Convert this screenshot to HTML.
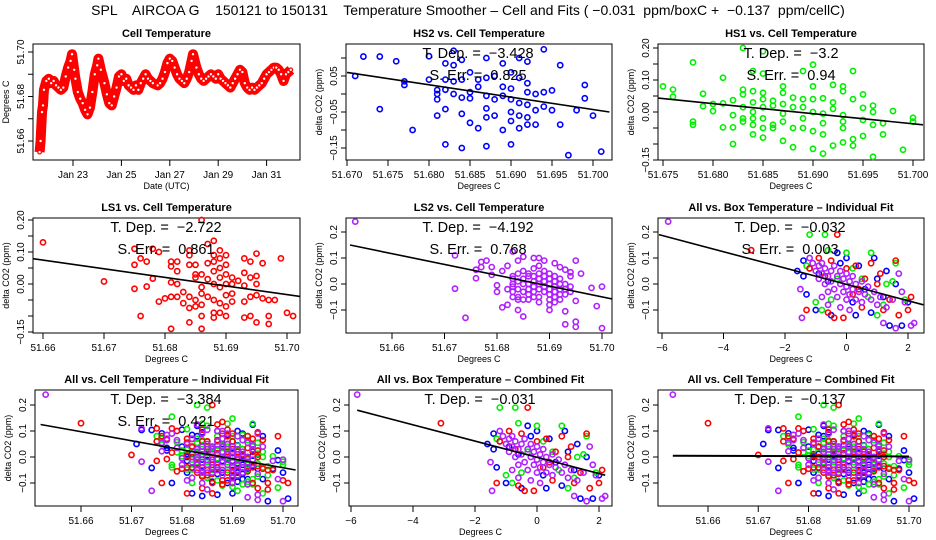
<!DOCTYPE html>
<html><head><meta charset="utf-8"><style>
html,body{margin:0;padding:0;background:#fff}
svg{display:block;font-family:"Liberation Sans",sans-serif}
</style></head><body>
<svg id="c" width="936" height="540" viewBox="0 0 936 540">
<text x="468" y="15" text-anchor="middle" font-size="14" style="white-space:pre">SPL    AIRCOA G    150121 to 150131    Temperature Smoother – Cell and Fits ( −0.031  ppm/boxC +  −0.137  ppm/cellC)</text>
</svg>
<script>
// ---- data ----
const tsDays=[21.62,21.66,21.72,21.76,21.8,21.9,22.0,22.1,22.2,22.3,22.4,22.5,22.6,22.7,22.8,22.9,22.96,23.05,23.1,23.2,23.3,23.4,23.5,23.6,23.7,23.8,23.9,24.0,24.05,24.15,24.3,24.4,24.5,24.6,24.7,24.8,24.9,25.0,25.1,25.2,25.3,25.4,25.5,25.6,25.7,25.8,25.9,26.0,26.1,26.2,26.3,26.5,26.6,26.7,26.8,26.9,27.0,27.1,27.2,27.3,27.4,27.5,27.6,27.7,27.8,27.9,27.96,28.1,28.2,28.3,28.4,28.5,28.6,28.7,28.8,28.9,29.0,29.1,29.2,29.3,29.4,29.5,29.6,29.7,29.8,29.9,30.0,30.1,30.2,30.3,30.4,30.5,30.6,30.7,30.8,30.9,31.0,31.1,31.2,31.3,31.4,31.5,31.6,31.7,31.8,31.9,32.0];
const tsTemp=[51.655,51.660,51.673,51.676,51.683,51.687,51.688,51.686,51.687,51.685,51.684,51.683,51.684,51.689,51.693,51.696,51.699,51.692,51.688,51.682,51.679,51.677,51.674,51.672,51.675,51.682,51.690,51.694,51.697,51.692,51.686,51.681,51.677,51.676,51.680,51.684,51.689,51.690,51.687,51.688,51.685,51.684,51.683,51.685,51.683,51.686,51.688,51.690,51.688,51.687,51.686,51.685,51.686,51.688,51.691,51.695,51.697,51.696,51.693,51.690,51.688,51.687,51.686,51.688,51.691,51.696,51.699,51.693,51.690,51.688,51.687,51.688,51.689,51.690,51.689,51.688,51.690,51.688,51.687,51.686,51.685,51.684,51.686,51.688,51.690,51.692,51.691,51.686,51.684,51.683,51.684,51.683,51.684,51.685,51.686,51.688,51.690,51.691,51.692,51.693,51.693,51.692,51.690,51.687,51.690,51.691,51.692];

const hs2T=[51.671,51.672,51.674,51.674,51.676,51.677,51.677,51.678,51.680,51.680,51.681,51.681,51.681,51.681,51.682,51.682,51.682,51.682,51.682,51.683,51.683,51.683,51.683,51.684,51.684,51.684,51.684,51.684,51.685,51.685,51.685,51.685,51.686,51.686,51.686,51.687,51.687,51.687,51.687,51.687,51.687,51.688,51.688,51.688,51.689,51.689,51.689,51.689,51.690,51.690,51.690,51.690,51.690,51.690,51.691,51.691,51.691,51.691,51.691,51.692,51.692,51.692,51.692,51.692,51.692,51.693,51.693,51.693,51.694,51.694,51.694,51.695,51.695,51.696,51.696,51.697,51.698,51.699,51.699,51.700,51.701];
const hs2C=[0.05,0.104,0.104,-0.042,0.091,0.035,0.025,-0.1,0.04,0.105,0.011,0.0,-0.015,-0.06,0.085,0.04,0.012,-0.042,-0.14,0.12,0.08,0.035,0.0,0.095,0.04,-0.01,-0.055,-0.15,0.06,0.005,-0.012,-0.08,0.04,0.02,-0.095,0.1,0.045,-0.005,-0.04,-0.065,-0.145,0.05,-0.015,-0.06,0.085,0.02,-0.005,-0.1,0.06,0.015,-0.015,-0.05,-0.075,-0.14,0.1,0.045,-0.025,-0.06,-0.095,0.09,0.03,0.005,-0.03,-0.065,-0.085,0.0,-0.045,-0.085,0.124,0.005,-0.035,0.01,-0.045,0.08,-0.085,-0.17,-0.045,0.025,-0.012,-0.06,-0.16];

const hs1T=[51.675,51.676,51.676,51.678,51.678,51.678,51.679,51.679,51.680,51.680,51.681,51.681,51.681,51.682,51.682,51.682,51.682,51.683,51.683,51.683,51.683,51.683,51.683,51.684,51.684,51.684,51.684,51.684,51.684,51.684,51.685,51.685,51.685,51.685,51.685,51.685,51.685,51.685,51.686,51.686,51.686,51.686,51.687,51.687,51.687,51.687,51.687,51.687,51.688,51.688,51.688,51.688,51.689,51.689,51.689,51.689,51.689,51.690,51.690,51.690,51.690,51.690,51.690,51.691,51.691,51.691,51.691,51.691,51.692,51.692,51.692,51.692,51.693,51.693,51.693,51.693,51.693,51.693,51.694,51.694,51.694,51.694,51.695,51.695,51.695,51.695,51.696,51.696,51.696,51.696,51.697,51.697,51.698,51.699,51.700,51.700];
const hs1C=[0.08,0.07,0.048,0.155,-0.03,-0.04,0.057,0.018,0.025,0.003,0.107,0.027,-0.048,0.037,-0.01,-0.048,-0.1,0.2,0.07,0.055,0.015,-0.02,-0.03,0.128,0.065,0.03,0.0,-0.02,-0.04,-0.07,0.19,0.12,0.06,0.04,0.015,-0.02,-0.05,-0.08,0.035,0.02,-0.04,-0.05,0.08,0.06,0.025,-0.005,-0.03,-0.09,0.045,0.015,-0.05,-0.11,0.04,0.015,-0.02,-0.05,0.128,0.148,0.08,0.04,0.0,-0.06,-0.115,0.043,-0.005,-0.035,-0.07,-0.13,0.085,0.03,0.01,-0.105,0.08,0.065,-0.01,-0.03,-0.05,-0.095,0.128,0.04,-0.085,-0.105,0.055,0.013,-0.025,-0.075,0.02,0.0,-0.04,-0.14,-0.035,-0.07,0.003,-0.118,-0.018,-0.03];

const ls1T=[51.660,51.670,51.675,51.675,51.675,51.676,51.676,51.677,51.677,51.678,51.678,51.679,51.679,51.680,51.681,51.681,51.681,51.681,51.681,51.682,51.682,51.682,51.682,51.683,51.683,51.684,51.684,51.684,51.684,51.684,51.684,51.685,51.685,51.685,51.685,51.685,51.686,51.686,51.686,51.686,51.686,51.686,51.686,51.687,51.687,51.687,51.687,51.688,51.688,51.688,51.688,51.688,51.688,51.688,51.688,51.689,51.689,51.689,51.689,51.689,51.689,51.689,51.690,51.690,51.690,51.690,51.690,51.690,51.690,51.691,51.691,51.691,51.691,51.692,51.693,51.693,51.693,51.693,51.693,51.694,51.694,51.694,51.694,51.695,51.695,51.695,51.695,51.695,51.696,51.696,51.697,51.697,51.697,51.698,51.699,51.700,51.701];
const ls1C=[0.13,0.008,0.11,0.06,-0.015,0.08,-0.1,0.07,-0.008,0.11,0.017,0.1,-0.055,-0.045,0.07,0.055,0.005,-0.04,-0.14,0.07,0.04,0.0,-0.04,-0.025,-0.06,0.105,0.09,0.06,-0.04,-0.075,-0.12,0.06,0.03,0.02,-0.05,-0.07,0.2,0.03,-0.01,-0.03,-0.065,-0.1,-0.14,0.125,0.065,0.015,-0.04,0.135,0.09,0.07,0.04,0.0,-0.05,-0.09,-0.105,0.105,0.08,0.05,0.02,-0.01,-0.06,-0.09,0.09,0.06,0.03,0.0,-0.035,-0.07,-0.1,0.02,0.0,-0.03,-0.055,0.01,0.08,0.035,-0.005,-0.055,-0.105,0.07,0.02,-0.04,-0.1,0.095,0.025,0.0,-0.035,-0.12,0.065,-0.045,-0.05,-0.1,-0.125,-0.05,0.08,-0.09,-0.1];

const ls2T=[51.653,51.672,51.672,51.674,51.676,51.676,51.677,51.677,51.678,51.679,51.679,51.680,51.680,51.681,51.681,51.682,51.682,51.682,51.683,51.683,51.683,51.683,51.684,51.684,51.685,51.685,51.687,51.688,51.689,51.690,51.691,51.692,51.693,51.693,51.693,51.694,51.695,51.695,51.695,51.695,51.696,51.698,51.699,51.700,51.700,
51.683,51.683,51.683,51.684,51.684,51.684,51.684,51.684,51.685,51.685,51.685,51.685,51.685,51.686,51.686,51.686,51.686,51.686,51.686,51.687,51.687,51.687,51.687,51.687,51.687,51.688,51.688,51.688,51.688,51.688,51.688,51.688,51.689,51.689,51.689,51.689,51.689,51.690,51.690,51.690,51.690,51.690,51.690,51.690,51.691,51.691,51.691,51.691,51.691,51.691,51.692,51.692,51.692,51.692,51.692,51.693,51.693,51.693,51.694,51.694,51.694];
const ls2C=[0.24,0.11,-0.018,-0.13,0.055,0.022,0.085,0.065,0.09,0.065,0.035,-0.005,-0.03,0.05,-0.09,0.07,-0.02,-0.08,0.125,0.03,0.0,-0.03,0.09,-0.1,0.105,-0.125,0.1,0.1,0.09,-0.1,0.08,0.065,0.055,-0.105,-0.155,0.045,0.09,-0.065,-0.145,-0.165,0.04,-0.015,-0.085,-0.01,-0.17,
0.02,-0.01,-0.05,0.04,0.01,-0.02,-0.05,-0.06,0.05,0.02,0.0,-0.03,-0.06,0.04,0.03,0.0,-0.02,-0.04,-0.06,0.06,0.03,0.01,-0.01,-0.03,-0.05,0.07,0.04,0.02,0.0,-0.02,-0.05,-0.07,0.05,0.03,0.01,-0.01,-0.03,0.04,0.02,0.0,-0.02,-0.04,-0.06,-0.08,0.03,0.01,-0.01,-0.03,-0.05,-0.07,0.02,0.0,-0.02,-0.04,-0.06,0.0,-0.02,-0.04,0.03,-0.01,-0.03];

const boxBlueX=[-1.6,-1.4,-1.4,-1.3,-1.0,-0.9,-0.6,-0.5,-0.3,-0.2,0.0,0.2,0.4,0.6,0.9,1.0,1.2,1.3,1.4,1.8,2.0,-1.2,0.3,0.8,1.6];
const boxBlueC=[0.05,0.09,0.03,-0.04,-0.1,0.04,0.01,-0.12,0.12,0.08,0.1,-0.07,0.07,-0.02,0.1,0.02,-0.05,0.05,-0.16,-0.16,-0.07,0.06,-0.12,-0.11,0.0];
const boxGreenX=[-1.2,-0.7,-0.6,-1.0,-0.8,-0.3,0.2,0.5,0.8,1.0,1.2,1.5,1.6,1.9,-0.5,0.0,1.3,-1.3,0.7];
const boxGreenC=[0.19,0.19,0.13,-0.07,-0.1,0.02,0.06,0.02,0.12,-0.12,-0.08,0.01,0.08,-0.06,-0.06,0.12,0.0,0.07,-0.05];
const boxRedX=[-3.1,-0.3,-1.3,-1.2,-0.9,-0.6,-0.5,-0.4,-0.1,0.0,0.2,0.3,0.5,0.6,0.8,1.0,1.2,1.4,1.6,1.7,2.0,2.1,-0.7,0.4,1.1];
const boxRedC=[0.13,0.19,-0.1,0.06,0.1,-0.11,0.09,-0.13,-0.13,0.06,-0.04,0.07,-0.09,0.02,0.08,0.0,-0.1,-0.06,0.09,-0.12,-0.1,-0.05,0.03,-0.02,0.04];
const boxMagX=[-5.8,-1.45,-1.5,1.2,1.6,2.1,2.2,1.7,-1.2,-0.8,-1.1,-1.0,-0.9,-0.9,-0.8,-0.7,-0.7,-0.6,-0.6,-0.5,-0.5,-0.4,-0.4,-0.3,-0.3,-0.2,-0.2,-0.1,-0.1,0,0,0,0.1,0.1,0.2,0.2,0.3,0.3,0.4,0.5,0.5,0.6,0.7,0.8,0.9,1.0,1.1,1.3,1.5,1.8,1.9,-0.8,-0.6,-0.2,0.1];
const boxMagC=[0.24,-0.13,-0.02,-0.15,-0.17,-0.16,-0.15,0.04,0.1,0.08,0.08,0.05,0.07,0.02,0.04,0.06,0.0,0.03,-0.03,0.05,0.01,-0.02,0.07,0.03,-0.05,0.0,0.05,-0.03,0.02,0.04,-0.01,-0.06,0.01,-0.04,-0.02,0.03,-0.06,0.0,-0.03,0.01,-0.07,-0.04,-0.01,-0.06,-0.03,-0.08,-0.05,-0.09,-0.06,-0.03,-0.07,-0.05,-0.08,-0.09,-0.1];

// fit line endpoints [x1,y1,x2,y2]
const fitHS2=[51.670,0.06,51.702,-0.05];
const fitHS1=[51.674,0.045,51.701,-0.04];
const fitLS1=[51.658,0.08,51.7025,-0.04];
const fitLS2=[51.652,0.15,51.7025,-0.06];
const fitBoxInd=[-6.1,0.19,2.5,-0.08];
const fitCellInd=[51.652,0.125,51.7025,-0.05];
const fitBoxComb=[-5.8,0.18,2.2,-0.07];
const fitCellComb=[51.653,0.005,51.70,0.002];

const BLUE='#0000ff',GREEN='#00ee00',RED='#ff0000',MAG='#b020ff';
const NS='http://www.w3.org/2000/svg';
const svg=document.getElementById('c');
function el(tag,attrs,parent){const e=document.createElementNS(NS,tag);for(const k in attrs)e.setAttribute(k,attrs[k]);(parent||svg).appendChild(e);return e;}
let clipN=0;
function panel(o){
  const g=el('g',{});
  
  
  const [L,T,R,B]=o.box;
  const sx=v=>o.x0+(v-o.xv0)*o.kx, sy=v=>o.y0+(v-o.yv0)*o.ky;
  const id='cl'+(clipN++);
  const cp=el('clipPath',{id:id},g);el('rect',{x:L,y:T,width:R-L,height:B-T},cp);
  const t=el('text',{x:(L+R)/2,y:T-7,'text-anchor':'middle','font-size':11,'font-weight':'bold'},g);t.textContent=o.title;
  
  
  const fr=el('rect',{x:L,y:T,width:R-L,height:B-T,fill:'none',stroke:'#000','stroke-width':1},g);
  
  
  o.xt.forEach((v,i)=>{const x=sx(v);el('line',{x1:x,y1:B,x2:x,y2:B+6,stroke:'#000'},g);
    const tx=el('text',{x:x,y:B+18,'text-anchor':'middle','font-size':10},g);tx.textContent=o.xl[i];
    
    });
  o.yt.forEach((v,i)=>{const y=sy(v);el('line',{x1:L-5,y1:y,x2:L,y2:y,stroke:'#000'},g);
    if(o.yl[i]){const ty=el('text',{x:L-9,y:y,'text-anchor':'middle','font-size':10,transform:`rotate(-90 ${L-9} ${y})`},g);ty.textContent=o.yl[i];
    
    }});
  const xa=el('text',{x:(L+R)/2,y:B+29,'text-anchor':'middle','font-size':9},g);xa.textContent=o.xlab;
  
  
  const ym=(T+B)/2;const ya=el('text',{x:L-24,y:ym,'text-anchor':'middle','font-size':9,transform:`rotate(-90 ${L-24} ${ym})`},g);ya.textContent=o.ylab;
  
  
  (o.series||[]).forEach(s=>{s.x.forEach((xv,i)=>{const c=el('circle',{cx:sx(xv),cy:sy(s.y[i]),r:2.6,fill:'none',stroke:s.color,'stroke-width':1.6},g);
    
    });});
  if(o.fit){const f=o.fit;const ln=el('line',{x1:sx(f[0]),y1:sy(f[1]),x2:sx(f[2]),y2:sy(f[3]),stroke:'#000','stroke-width':o.fitW||1.6,'clip-path':`url(#${id})`},g);
    
    }
  (o.notes||[]).forEach((n,i)=>{const a=el('text',{x:o.nx,y:T+14+i*22,'text-anchor':'middle','font-size':14.5,style:'white-space:pre'},g);a.textContent=n;
    
    });
  return {g,sx,sy,id};
}
// Panel 1 time series
const p1=panel({name:'cell-temperature-panel',title:'Cell Temperature',box:[33,44,300,160],x0:73,xv0:23,kx:24.2,y0:52,yv0:51.70,ky:-2225,
 xt:[23,25,27,29,31],xl:['Jan 23','Jan 25','Jan 27','Jan 29','Jan 31'],yt:[51.66,51.67,51.68,51.69,51.70],yl:['51.66','','51.68','','51.70'],xlab:'Date (UTC)',ylab:'Degrees C'});
const pts=tsDays.map((d,i)=>p1.sx(d)+','+p1.sy(tsTemp[i])).join(' ');
const band=el('polyline',{points:pts,fill:'none',stroke:RED,'stroke-width':10,'stroke-linejoin':'round','clip-path':`url(#${p1.id})`},p1.g);


tsDays.forEach((d,i)=>{const c=el('circle',{cx:p1.sx(d),cy:p1.sy(tsTemp[i]),r:1.8,fill:'#fff',stroke:RED,'stroke-width':1.2},p1.g);
 
 });

const yt2=[-0.1,0,0.1,0.2];
const xtC=[51.66,51.67,51.68,51.69,51.70],xlC=['51.66','51.67','51.68','51.69','51.70'];
panel({name:'hs2-panel',title:'HS2 vs. Cell Temperature',box:[346,44,612,160],x0:347,xv0:51.670,kx:8200,y0:94,yv0:0,ky:-360,
 xt:[51.670,51.675,51.680,51.685,51.690,51.695,51.700],xl:['51.670','51.675','51.680','51.685','51.690','51.695','51.700'],
 yt:[0.1,0.05,0,-0.05,-0.1,-0.15],yl:['','0.05','','−0.05','','−0.15'],xlab:'Degrees C',ylab:'delta CO2 (ppm)',
 series:[{x:hs2T,y:hs2C,color:BLUE}],fit:fitHS2,nx:478,notes:['T. Dep. =  −3.428','S. Err. =  0.825']});
panel({name:'hs1-panel',title:'HS1 vs. Cell Temperature',box:[658,44,924,160],x0:663,xv0:51.675,kx:10000,y0:112,yv0:0,ky:-320,
 xt:[51.675,51.680,51.685,51.690,51.695,51.700],xl:['51.675','51.680','51.685','51.690','51.695','51.700'],
 yt:[0.2,0.15,0.1,0.05,0,-0.05,-0.1,-0.15],yl:['0.20','','0.10','','0.00','','','−0.15'],xlab:'Degrees C',ylab:'delta CO2 (ppm)',
 series:[{x:hs1T,y:hs1C,color:GREEN}],fit:fitHS1,nx:791,notes:['T. Dep. =  −3.2','S. Err. =  0.94']});
panel({name:'ls1-panel',title:'LS1 vs. Cell Temperature',box:[33,218,300,333],x0:43,xv0:51.66,kx:6100,y0:284,yv0:0,ky:-320,
 xt:xtC,xl:xlC,yt:[0.2,0.15,0.1,0.05,0,-0.05,-0.1,-0.15],yl:['0.20','','0.10','','0.00','','','−0.15'],xlab:'Degrees C',ylab:'delta CO2 (ppm)',
 series:[{x:ls1T,y:ls1C,color:RED}],fit:fitLS1,nx:166,notes:['T. Dep. =  −2.722','S. Err. =  0.861']});
panel({name:'ls2-panel',title:'LS2 vs. Cell Temperature',box:[346,218,612,333],x0:392,xv0:51.66,kx:5250,y0:284,yv0:0,ky:-260,
 xt:xtC,xl:xlC,yt:yt2,yl:['−0.1','0.0','0.1','0.2'],xlab:'Degrees C',ylab:'delta CO2 (ppm)',
 series:[{x:ls2T,y:ls2C,color:MAG}],fit:fitLS2,nx:478,notes:['T. Dep. =  −4.192','S. Err. =  0.768']});
const boxSeries=[{x:boxBlueX,y:boxBlueC,color:BLUE},{x:boxGreenX,y:boxGreenC,color:GREEN},{x:boxRedX,y:boxRedC,color:RED},{x:boxMagX,y:boxMagC,color:MAG}];
const cellSeries=[{x:hs2T,y:hs2C,color:BLUE},{x:hs1T,y:hs1C,color:GREEN},{x:ls1T,y:ls1C,color:RED},{x:ls2T,y:ls2C,color:MAG}];
panel({name:'box-individual-panel',title:'All vs. Box Temperature – Individual Fit',box:[658,218,924,333],x0:662,xv0:-6,kx:30.75,y0:284,yv0:0,ky:-260,
 xt:[-6,-4,-2,0,2],xl:['−6','−4','−2','0','2'],yt:yt2,yl:['−0.1','0.0','0.1','0.2'],xlab:'Degrees C',ylab:'delta CO2 (ppm)',
 series:boxSeries,fit:fitBoxInd,nx:790,notes:['T. Dep. =  −0.032','S. Err. =  0.003']});
panel({name:'cell-individual-panel',title:'All vs. Cell Temperature – Individual Fit',box:[35,390,298,506],x0:81,xv0:51.66,kx:5050,y0:457,yv0:0,ky:-260,
 xt:xtC,xl:xlC,yt:yt2,yl:['−0.1','0.0','0.1','0.2'],xlab:'Degrees C',ylab:'delta CO2 (ppm)',
 series:cellSeries,fit:fitCellInd,nx:166,notes:['T. Dep. =  −3.384','S. Err. =  0.421']});
panel({name:'box-combined-panel',title:'All vs. Box Temperature – Combined Fit',box:[349,390,612,506],x0:351,xv0:-6,kx:31,y0:457,yv0:0,ky:-260,
 xt:[-6,-4,-2,0,2],xl:['−6','−4','−2','0','2'],yt:yt2,yl:['−0.1','0.0','0.1','0.2'],xlab:'Degrees C',ylab:'delta CO2 (ppm)',
 series:boxSeries,fit:fitBoxComb,nx:480,notes:['T. Dep. =  −0.031']});
panel({name:'cell-combined-panel',title:'All vs. Cell Temperature – Combined Fit',box:[658,390,924,506],x0:708,xv0:51.66,kx:5025,y0:457,yv0:0,ky:-260,
 xt:xtC,xl:xlC,yt:yt2,yl:['−0.1','0.0','0.1','0.2'],xlab:'Degrees C',ylab:'delta CO2 (ppm)',
 series:cellSeries,fit:fitCellComb,fitW:2,nx:790,notes:['T. Dep. =  −0.137']});
</script>
</body></html>
